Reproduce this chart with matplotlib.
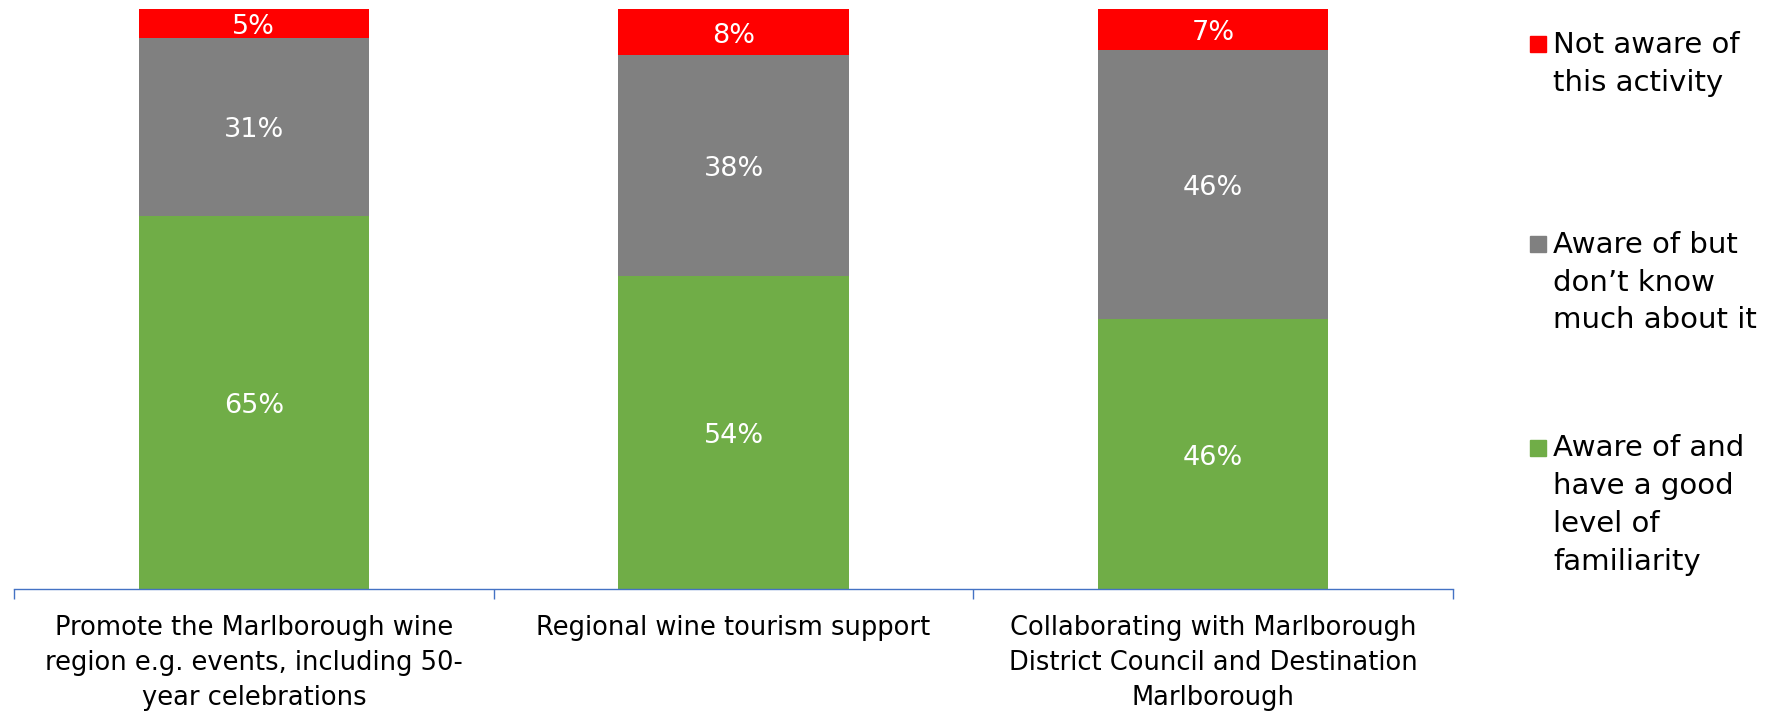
import numpy as np
import matplotlib.pyplot as plt
from matplotlib.patches import Rectangle

categories = [
    "Promote the Marlborough wine\nregion e.g. events, including 50-\nyear celebrations",
    "Regional wine tourism support",
    "Collaborating with Marlborough\nDistrict Council and Destination\nMarlborough",
]
good = [65, 54, 46]
some = [31, 38, 46]
none = [5, 8, 7]

series_names = [
    "Aware of and\nhave a good\nlevel of\nfamiliarity",
    "Aware of but\ndon\u2019t know\nmuch about it",
    "Not aware of\nthis activity",
]
colors = ["#70AD47", "#808080", "#FF0000"]

# 100% stacked: normalise each bar
vals = np.array([good, some, none], dtype=float)
pct = vals / vals.sum(axis=0) * 100

fig = plt.figure(figsize=(17.8, 7.14), dpi=100)
ax = fig.add_axes([0.00787, 0.1751, 0.8085, 0.8123])

x = np.arange(len(categories))
bottom = np.zeros(len(categories))
for i in range(3):
    ax.bar(x, pct[i], width=0.48, bottom=bottom, color=colors[i])
    for j in range(len(categories)):
        ax.text(x[j], bottom[j] + pct[i][j] / 2 - 0.6, f"{int(vals[i][j])}%",
                ha="center", va="center", color="white", fontsize=19.5)
    bottom += pct[i]

ax.set_xlim(-0.5, 2.5)
ax.set_ylim(0, 100)
for s in ["top", "right", "left"]:
    ax.spines[s].set_visible(False)
ax.spines["bottom"].set_color("#4472C4")
ax.spines["bottom"].set_linewidth(1.0)
ax.set_yticks([])
ax.set_xticks(x)
ax.set_xticklabels(categories, fontsize=18.5, linespacing=1.45)
ax.tick_params(axis="x", which="major", length=0, pad=19)
ax.set_xticks([-0.5, 0.5, 1.5, 2.5], minor=True)
ax.tick_params(axis="x", which="minor", length=7, width=1.0, color="#4472C4", direction="out")

# legend, drawn top to bottom
leg_y = [0.938, 0.658, 0.373]
order = [2, 1, 0]
for k, i in enumerate(order):
    fig.patches.append(Rectangle((1530 / 1780, leg_y[k] - 0.011), 16 / 1780, 16 / 714,
                                 transform=fig.transFigure, color=colors[i]))
    fig.text(1553 / 1780, leg_y[k] + 0.019, series_names[i], fontsize=21, va="top",
             ha="left", linespacing=1.45)

fig.savefig("out.png", dpi=100)
